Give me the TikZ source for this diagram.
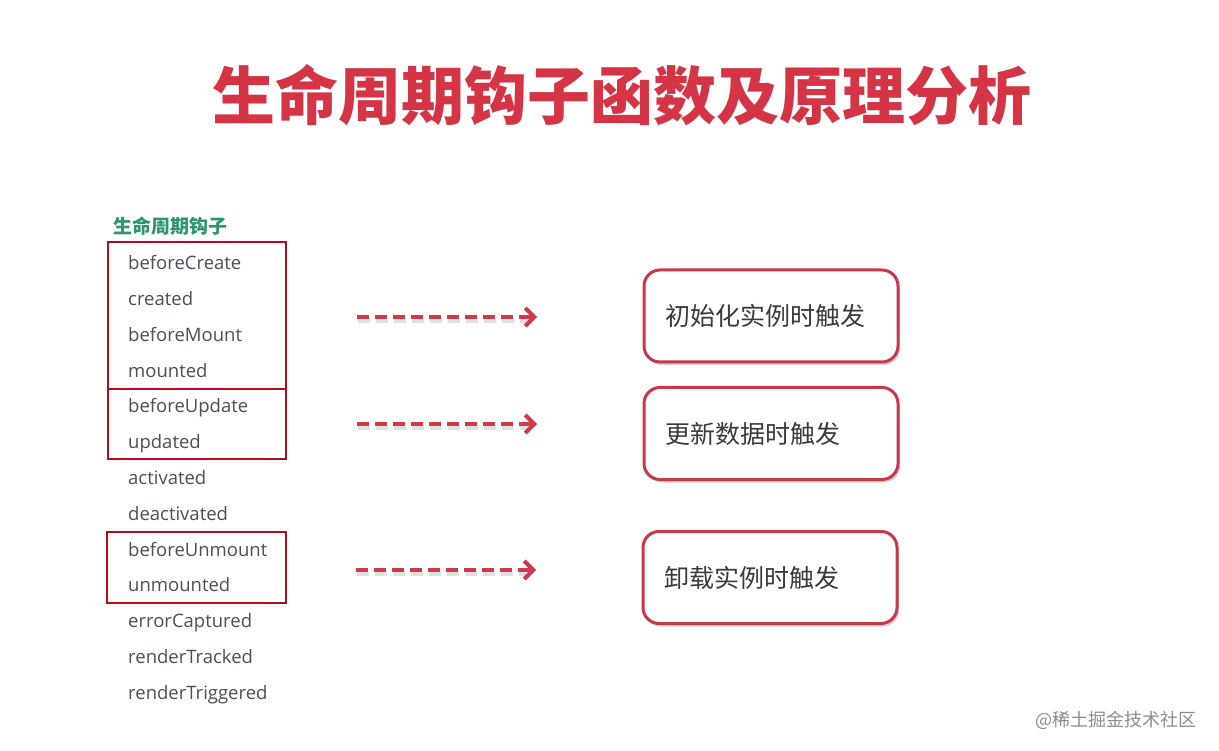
\documentclass[tikz,border=0pt]{standalone}
\usepackage{fontspec}
\setmainfont{Open Sans}
\newfontfamily\cjk{Noto Sans CJK SC}
\usetikzlibrary{arrows.meta,shadows}
\definecolor{TitleRed}{RGB}{ 212, 52, 68 }
\definecolor{BoxRed}{RGB}{ 178, 12, 32 }
\definecolor{ArrowRed}{RGB}{ 206, 58, 74 }
\definecolor{StageRed}{RGB}{ 200, 56, 72 }
\definecolor{HeadGreen}{RGB}{ 46, 150, 108 }
\definecolor{HookGray}{RGB}{ 72, 78, 90 }
\definecolor{StageText}{RGB}{ 58, 58, 58 }

\begin{document}
\begin{tikzpicture}[x=1pt, y=-1pt,
    hook/.style={anchor=base west, text=HookGray, inner sep=0pt,
        font=\fontsize{18.5}{20}\selectfont},
    groupbox/.style={draw=BoxRed, line width=2.2pt},
    flow/.style={draw=ArrowRed, line width=4pt, dash pattern=on 12pt off 6pt,
        -{Straight Barb[length=9pt, width=18pt]}},
    flowshadow/.style={draw=black!12, line width=4pt, dash pattern=on 12pt off 6pt},
    stage/.style={draw=StageRed, line width=3pt, rounded corners=16pt, fill=white,
        minimum width=254pt, minimum height=92pt, text width=212pt, align=left,
        text=StageText, font=\cjk\fontsize{25}{28}\selectfont,
        drop shadow={shadow xshift=2pt, shadow yshift=-3pt, fill=black, opacity=.18}}
]
\useasboundingbox (0,0) rectangle (1219,751);

% title
\node[text=TitleRed, font=\cjk\bfseries\fontsize{63}{66}\selectfont] (title) at (622,95)
    {生命周期钩子函数及原理分析};

% hook list
\node[anchor=west, inner sep=0pt, text=HeadGreen, font=\cjk\bfseries\fontsize{19}{21}\selectfont]
    (hooks) at (113,226) {生命周期钩子};
\foreach \name [count=\i from 0] in {beforeCreate, created, beforeMount, mounted,
    beforeUpdate, updated, activated, deactivated, beforeUnmount, unmounted,
    errorCaptured, renderTracked, renderTriggered}
    \node[hook] (h\i) at (128, 270+35.75*\i) {\name};

% groups
\draw[groupbox] (108,242) rectangle (286,389);
\draw[groupbox] (108,389) rectangle (286,459);
\draw[groupbox] (107,532) rectangle (286,603);

% stages
\node[stage] (init) at (771,316) {初始化实例时触发};
\node[stage] (update) at (771,433.5) {更新数据时触发};
\node[stage] (unmount) at (770,577.5) {卸载实例时触发};

% arrows
\coordinate (init-from) at (357,317);    \coordinate (init-to) at (537,317);
\coordinate (update-from) at (357,424);  \coordinate (update-to) at (537,424);
\coordinate (unmount-from) at (356,570); \coordinate (unmount-to) at (536,570);
\foreach \s in {init, update, unmount} {
    \draw[flowshadow] ([shift={(1,4)}]\s-from) -- ([shift={(-6,4)}]\s-to);
    \draw[flow] (\s-from) -- (\s-to);
}

% watermark
\node[anchor=east, text=black!45, font=\cjk\fontsize{18}{20}\selectfont] (mark) at (1200,720)
    {@稀土掘金技术社区};
\end{tikzpicture}
\end{document}
